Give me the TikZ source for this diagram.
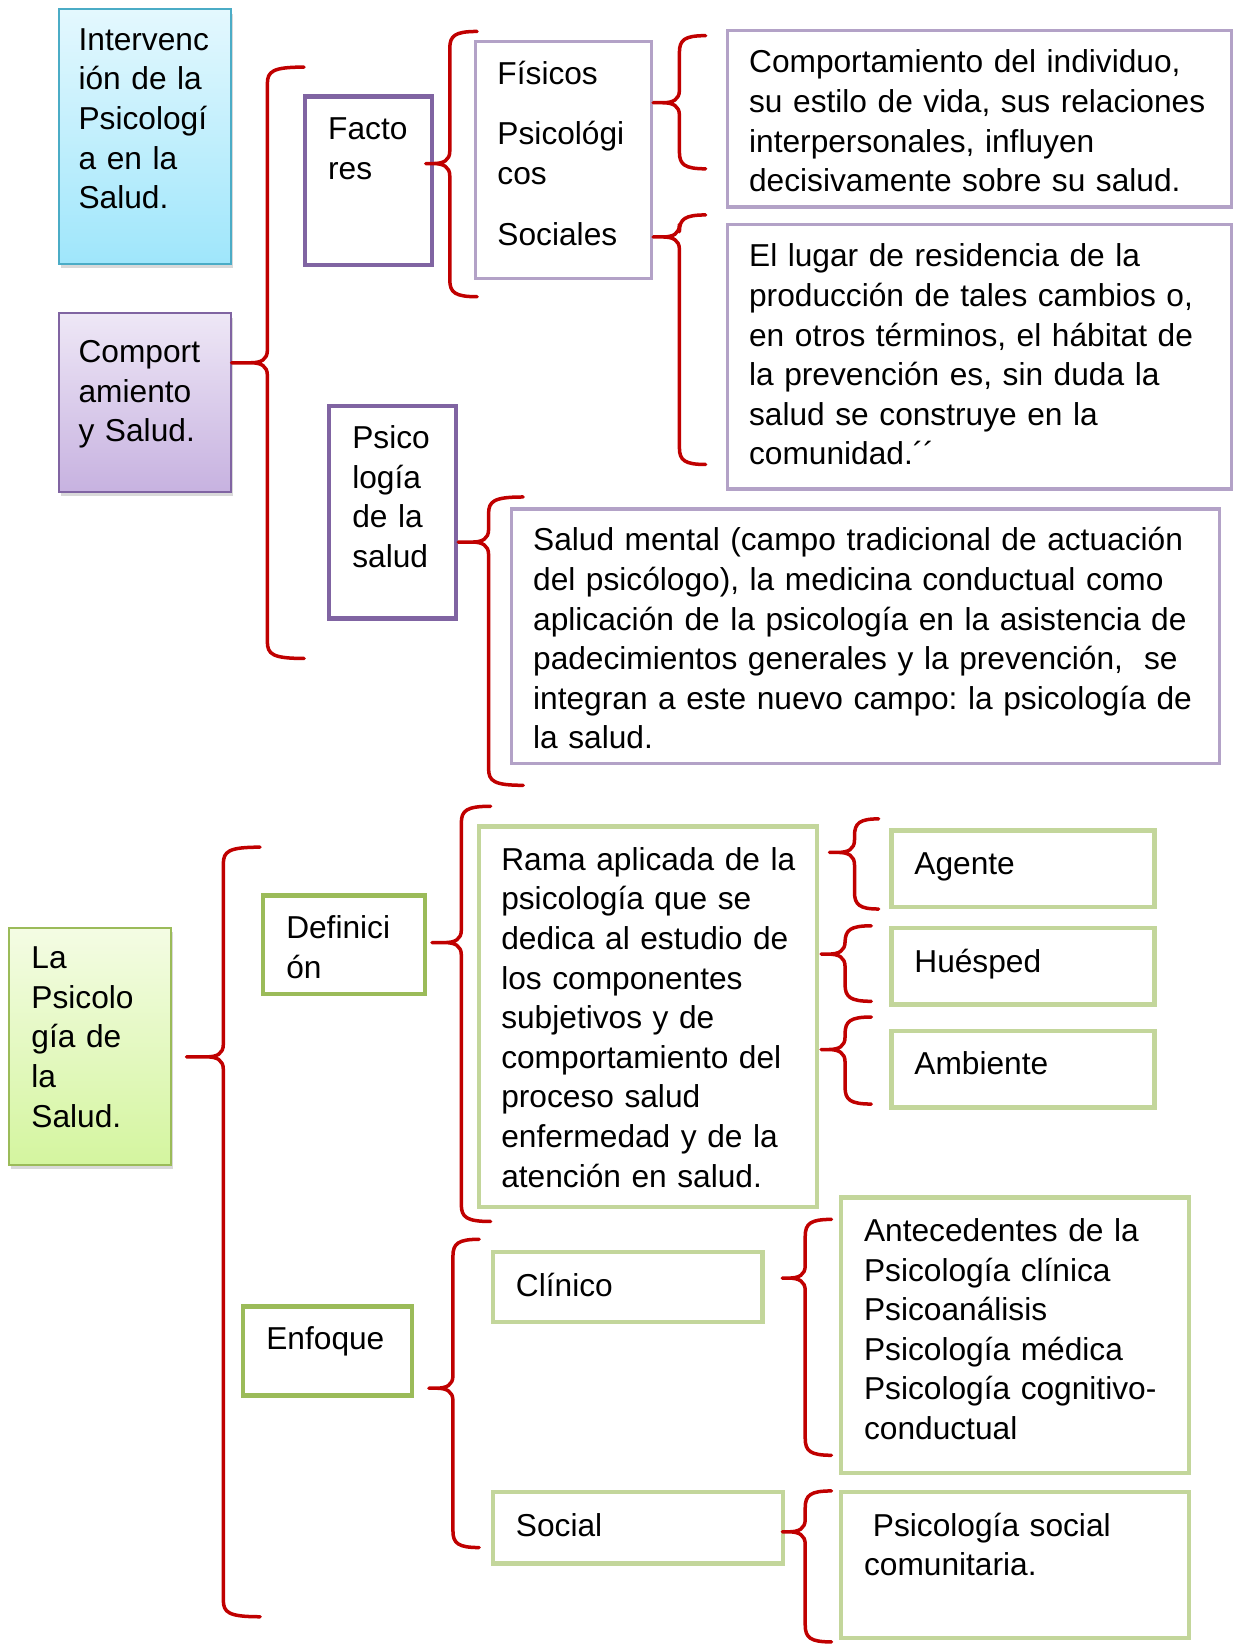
\documentclass[tikz,border=0pt]{standalone}
\usepackage{fontspec}
\setmainfont{Liberation Sans}
\usetikzlibrary{calc,shadows}
\frenchspacing

\definecolor{rojo}{HTML}{C00000}
\definecolor{morado}{HTML}{8064A2}
\definecolor{lila}{HTML}{B3A2C7}
\definecolor{verde}{HTML}{9BBB59}
\definecolor{verdeclaro}{HTML}{C3D69B}
\definecolor{azul}{HTML}{4BACC6}

\tikzset{
  caja/.style={anchor=north west, align=left, inner ysep=0pt, fill=white,
    font=\fontsize{17.2}{21.5}\selectfont},
  dims/.style n args={4}{inner xsep=#1, text width=#2, text height=#3, text depth=#4},
  titulo/.style={caja, line width=1.1pt,
    drop shadow={opacity=0.3, shadow xshift=0.04cm, shadow yshift=-0.08cm}},
  cajaM/.style={caja, draw=morado, line width=2.3pt},
  cajaL/.style={caja, draw=lila, line width=1.7pt},
  cajaV/.style={caja, draw=verde, line width=2.3pt},
  cajaC/.style={caja, draw=verdeclaro, line width=2.4pt},
  llave/.style={draw=rojo, line width=1.9pt, line cap=round, line join=round}
}

% node, gap, tip y, spine x, end x, top y, bottom y
\newcommand{\llave}[7]{%
  \draw[llave] (#5,#6) .. controls ({#4+5},#6) and (#4,{#6+4}) .. (#4,{#6+16})
    -- (#4,{#3-12}) .. controls (#4,{#3-3}) and ({#4-6},#3) .. ({#4-16},#3)
    -- ($(#1.east |- 0,#3)+(#2,0)$)
    -- ({#4-16},#3) .. controls ({#4-6},#3) and (#4,{#3+3}) .. (#4,{#3+12})
    -- (#4,{#7-16}) .. controls (#4,{#7-4}) and ({#4+5},#7) .. (#5,#7);}

\begin{document}
\begin{tikzpicture}[x=0.02cm, y=-0.02cm]
  \useasboundingbox (0,0) rectangle (1176,1568);

  \node[titulo, draw=azul, top color={rgb,255:red,228;green,248;blue,254},
    bottom color={rgb,255:red,159;green,230;blue,251},
    dims={0.38cm}{2.52cm}{0.78cm}{4.08cm}] (inter) at (55,8)
    {Intervenc\\ión de la\\Psicologí\\a en la\\Salud.};
  \node[titulo, draw=morado, top color={rgb,255:red,238;green,231;blue,246},
    bottom color={rgb,255:red,199;green,178;blue,224},
    dims={0.38cm}{2.52cm}{0.94cm}{2.46cm}] (comport) at (55,298)
    {Comport\\amiento\\y Salud.};
  \node[cajaM, dims={0.44cm}{1.54cm}{0.82cm}{2.40cm}] (fact) at (289,90) {Facto\\res};
  \node[cajaL, dims={0.42cm}{2.52cm}{0.82cm}{3.70cm}] (tipos) at (452,38)
    {Físicos\\[0.4cm]Psicológi\\cos\\[0.4cm]Sociales};
  \node[cajaL, dims={0.42cm}{8.78cm}{0.80cm}{2.56cm}] (indiv) at (692,28)
    {Comportamiento del individuo,\\su estilo de vida, sus relaciones\\interpersonales, influyen\\decisivamente sobre su salud.};
  \node[cajaL, dims={0.42cm}{8.78cm}{0.80cm}{4.24cm}] (lugar) at (692,213)
    {El lugar de residencia de la\\producción de tales cambios o,\\en otros términos, el hábitat de\\la prevención es, sin duda la\\salud se construye en la\\comunidad.´´};
  \node[cajaM, dims={0.44cm}{1.54cm}{0.82cm}{3.24cm}] (psico) at (312,385)
    {Psico\\logía\\de la\\salud};
  \node[cajaL, dims={0.42cm}{12.68cm}{0.80cm}{4.06cm}] (mental) at (486,484)
    {Salud mental (campo tradicional de actuación\\del psicólogo), la medicina conductual como\\aplicación de la psicología en la asistencia de\\padecimientos generales y la prevención,~ se\\integran a este nuevo campo: la psicología de\\la salud.};

  \node[titulo, draw=verde, top color={rgb,255:red,244;green,252;blue,228},
    bottom color={rgb,255:red,212;green,245;blue,159},
    dims={0.42cm}{2.24cm}{0.78cm}{3.74cm}] (lapsi) at (8,884)
    {La\\Psicolo\\gía de\\la\\Salud.};
  \node[cajaV, dims={0.44cm}{2.20cm}{0.82cm}{1.06cm}] (defin) at (249,852) {Definici\\ón};
  \node[cajaC, dims={0.42cm}{5.60cm}{0.84cm}{6.42cm}] (rama) at (455,786)
    {\mbox{Rama aplicada de la}\\psicología que se\\dedica al estudio de\\los componentes\\subjetivos y de\\comportamiento del\\proceso salud\\enfermedad y de la\\atención en salud.};
  \node[cajaC, dims={0.44cm}{4.14cm}{0.84cm}{0.62cm}] (agente) at (848,790) {Agente};
  \node[cajaC, dims={0.44cm}{4.14cm}{0.84cm}{0.62cm}] (huesped) at (848,883) {Huésped};
  \node[cajaC, dims={0.44cm}{4.14cm}{0.84cm}{0.62cm}] (ambiente) at (848,981) {Ambiente};
  \node[cajaV, dims={0.44cm}{2.34cm}{0.82cm}{0.88cm}] (enfoque) at (230,1244) {Enfoque};
  \node[cajaC, dims={0.44cm}{4.26cm}{0.84cm}{0.50cm}] (clinico) at (468,1192) {Clínico};
  \node[cajaC, dims={0.44cm}{5.76cm}{0.84cm}{4.42cm}] (antec) at (800,1140)
    {Antecedentes de la\\Psicología clínica\\Psicoanálisis\\Psicología médica\\Psicología cognitivo-\\conductual};
  \node[cajaC, dims={0.44cm}{4.66cm}{0.84cm}{0.52cm}] (social) at (468,1421) {Social};
  \node[cajaC, dims={0.44cm}{5.76cm}{0.84cm}{1.94cm}] (comun) at (800,1421)
    {\hspace*{0.17cm}Psicología social\\comunitaria.};

  \llave{comport}{0}{346}{255}{290}{64}{628}
  \llave{fact}{-8}{156}{429}{455}{30}{283}
  \llave{tipos}{0}{98}{648}{673}{34}{161}
  \llave{tipos}{0}{226}{648}{673}{205}{443}
  \llave{psico}{0}{517}{466}{499}{474}{749}
  \llave{lapsi}{14}{1008}{213}{248}{808}{1542}
  \llave{defin}{5}{899}{440}{468}{769}{1165}
  \llave{rama}{10}{813}{815}{838}{781}{867}
  \llave{rama}{2}{910}{806}{831}{883}{955}
  \llave{rama}{2}{1001}{806}{831}{970}{1053}
  \llave{enfoque}{14}{1324}{432}{457}{1182}{1476}
  \llave{clinico}{17}{1219}{768}{793}{1163}{1388}
  \llave{social}{-3}{1461}{768}{793}{1422}{1566}
\end{tikzpicture}
\end{document}
